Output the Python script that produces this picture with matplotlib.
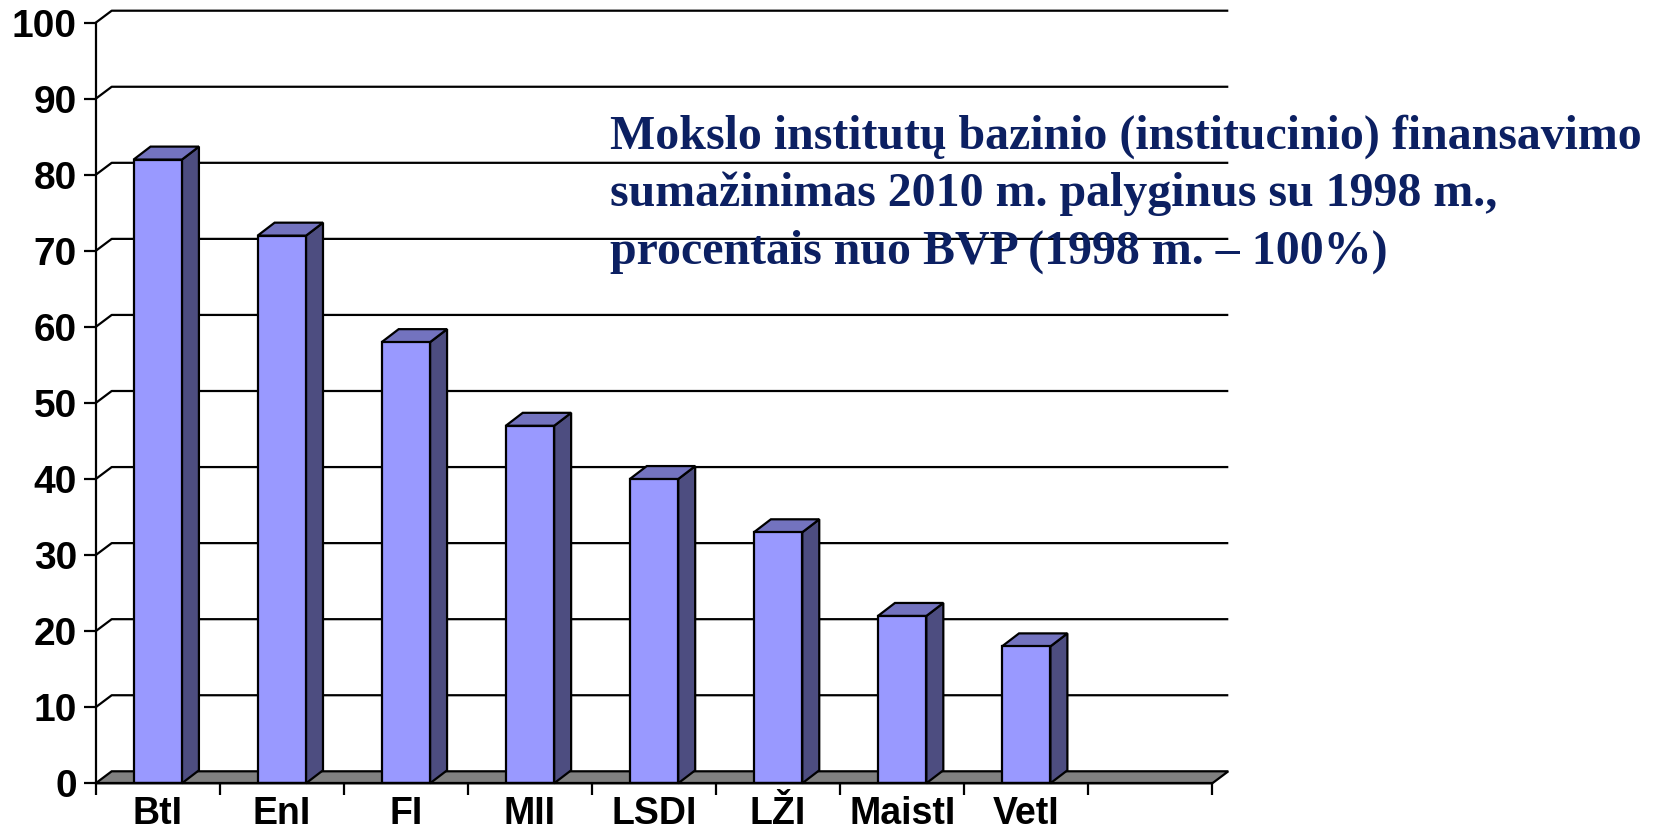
import matplotlib
matplotlib.use("Agg")
import matplotlib.pyplot as plt

# data
institutes = ["BtI", "EnI", "FI", "MII", "LSDI", "LŽI", "MaistI", "VetI"]
values = [82, 72, 58, 47, 40, 33, 22, 18]
y_ticks = [0, 10, 20, 30, 40, 50, 60, 70, 80, 90, 100]
title_lines = [
    "Mokslo institutų bazinio (institucinio) finansavimo",
    "sumažinimas 2010 m. palyginus su 1998 m.,",
    "procentais nuo BVP (1998 m. – 100%)",
]

W, H = 1657, 839
fig = plt.figure(figsize=(W / 100, H / 100), dpi=100)

# axes box in pixels: x 95.7..1212.3, y 22.7..783.3
ax = fig.add_axes([95.7 / W, 1 - 783.3 / H, (1212.3 - 95.7) / W, (783.3 - 22.7) / H])
n_cat = len(institutes) + 1
ax.set_xlim(0, n_cat)
ax.set_ylim(0, 100)

px_x = (1212.3 - 95.7) / n_cat      # pixels per category
px_y = (783.3 - 22.7) / 100         # pixels per unit
dx, dy = 16 / px_x, 12 / px_y       # depth of the wall / floor
bdx, bdy = 17 / px_x, 13 / px_y     # depth of the bars

lw = 1.6
# back wall gridlines with the little diagonal on the left wall
for v in y_ticks[1:]:
    ax.plot([0, dx, n_cat + dx], [v, v + dy, v + dy], color="black", lw=lw,
            clip_on=False, zorder=1, solid_capstyle="butt")

# floor
ax.fill([0, n_cat, n_cat + dx, dx], [0, 0, dy, dy], facecolor="#808080",
        edgecolor="black", lw=lw, clip_on=False, zorder=2)

# bars
bw = 0.39
front = "#9999FF"
side = "#4D4D80"
top = "#7373BF"
for i, v in enumerate(values):
    x0 = i + 0.5 - bw / 2
    x1 = x0 + bw
    ax.fill([x1, x1 + bdx, x1 + bdx, x1], [0, bdy, v + bdy, v], facecolor=side,
            edgecolor="black", lw=lw, zorder=3, clip_on=False)
    ax.fill([x0, x0 + bdx, x1 + bdx, x1], [v, v + bdy, v + bdy, v], facecolor=top,
            edgecolor="black", lw=lw, zorder=3, clip_on=False)
ax.bar([i + 0.5 for i in range(len(values))], values, width=bw, color=front,
       edgecolor="black", linewidth=lw, zorder=4)

# axes styling
for s in ["top", "right"]:
    ax.spines[s].set_visible(False)
for s in ["left", "bottom"]:
    ax.spines[s].set_linewidth(lw)
    ax.spines[s].set_zorder(5)
ax.set_yticks(y_ticks)
ax.set_yticklabels([str(t) for t in y_ticks])
ax.set_xticks(range(n_cat + 1))
ax.set_xticklabels([])
ax.set_xticks([i + 0.5 for i in range(len(institutes))], minor=True)
ax.set_xticklabels(institutes, minor=True)
ax.tick_params(axis="y", length=8.5, width=lw, pad=5)
ax.tick_params(axis="x", which="major", length=8.5, width=lw, direction="out")
ax.tick_params(axis="x", which="minor", length=0, pad=9)
for lab in ax.get_yticklabels():
    lab.set_fontfamily("Liberation Sans")
    lab.set_fontweight("bold")
    lab.set_fontsize(28)
for lab in ax.get_xticklabels(minor=True):
    lab.set_fontfamily("Liberation Sans")
    lab.set_fontweight("bold")
    lab.set_fontsize(27)

# title block
for k, line in enumerate(title_lines):
    fig.text(610 / W, 1 - (148.3 + 57.5 * k) / H, line, family="Liberation Serif",
             fontweight="bold", fontsize=34.5, color="#0C2062", va="baseline",
             ha="left", zorder=10)

fig.savefig("out.png", dpi=100)
